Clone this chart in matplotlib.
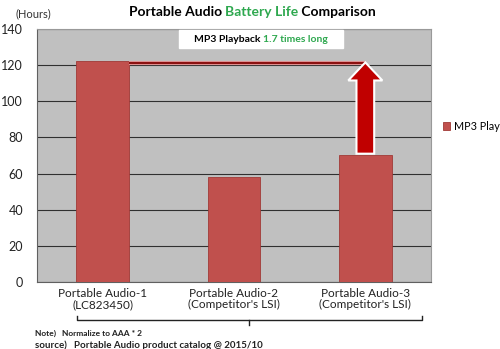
import matplotlib.pyplot as plt
from matplotlib.offsetbox import TextArea, HPacker, AnnotationBbox, DrawingArea
from matplotlib.lines import Line2D
from matplotlib.patches import FancyArrow

plt.rcParams['font.family'] = ['Lato', 'DejaVu Sans']

categories = ['Portable Audio-1\n(LC823450)',
              'Portable Audio-2\n(Competitor\'s LSI)',
              'Portable Audio-3\n(Competitor\'s LSI)']
mp3_hours = [122, 58, 70]
yticks = [0, 20, 40, 60, 80, 100, 120, 140]

bar_color = '#C0504D'

fig = plt.figure(figsize=(5, 3.49), dpi=100)
ax = fig.add_axes([0.074, 0.192, 0.788, 0.725])
ax.set_facecolor('#C0C0C0')

x = range(len(categories))
ax.bar(x, mp3_hours, width=0.4, color=bar_color, edgecolor='#A03A37',
       linewidth=0.6, zorder=3, label='MP3 Play')

ax.set_xlim(-0.5, 2.5)
ax.set_ylim(0, 140)
ax.set_yticks(yticks)
ax.yaxis.grid(True, color='#303030', linewidth=0.8, zorder=1)
ax.set_axisbelow(True)
ax.tick_params(axis='y', length=0, labelsize=9, colors='#222222', pad=10)
ax.tick_params(axis='x', length=0, labelsize=8.5, colors='#222222', pad=4)
ax.set_xticks(list(x))
ax.set_xticklabels(categories, linespacing=1.05)
for s in ['top', 'right']:
    ax.spines[s].set_color('#999999')
for s in ['left', 'bottom']:
    ax.spines[s].set_color('#606060')

# reference line from bar 1 height over to bar 3
ax.plot([0.2, 2], [121, 121], color='#E8A0A0', linewidth=3, zorder=4, solid_capstyle='butt')
ax.plot([0.2, 2], [121, 121], color='#8B1010', linewidth=1.6, zorder=4, solid_capstyle='butt')

# big up arrow
ax.add_patch(FancyArrow(2, 71, 0, 50.5, width=0.135, head_width=0.26,
                        head_length=10, length_includes_head=True,
                        facecolor='#C00000', edgecolor='white', linewidth=1.5, zorder=5))

# annotation box
box = HPacker(children=[
    DrawingArea(8, 1),
    TextArea('MP3 Playback ', textprops=dict(color='black', fontsize=7.5, fontweight='bold')),
    TextArea('1.7 times long', textprops=dict(color='#2EA84F', fontsize=7.5, fontweight='bold')),
    DrawingArea(8, 1),
], align='baseline', pad=0, sep=0)
ab = AnnotationBbox(box, (0.569, 0.96), xycoords='axes fraction', frameon=True,
                    bboxprops=dict(facecolor='white', edgecolor='white',
                                   boxstyle='square,pad=0.3'),
                    zorder=6)
ax.add_artist(ab)

# title
title = HPacker(children=[
    TextArea('Portable Audio ', textprops=dict(color='black', fontsize=10, fontweight='bold')),
    TextArea('Battery Life', textprops=dict(color='#2EA84F', fontsize=10, fontweight='bold')),
    TextArea(' Comparison', textprops=dict(color='black', fontsize=10, fontweight='bold')),
], align='baseline', pad=0, sep=0)
tb = AnnotationBbox(title, (0.505, 0.965), xycoords='figure fraction', frameon=False, pad=0)
fig.add_artist(tb)

fig.text(0.03, 0.96, '(Hours)', fontsize=8, color='#333333', va='center')

# legend
ax.legend(loc='center left', bbox_to_anchor=(1.03, 0.615), frameon=False,
          fontsize=7.8, handlelength=0.7, handleheight=0.7, handletextpad=0.3,
          borderaxespad=0, borderpad=0)

# bracket under x labels
yb = 1 - 320 / 349
fig.add_artist(Line2D([77 / 500, 77 / 500, 422 / 500, 422 / 500],
                      [yb + 0.012, yb, yb, yb + 0.012], color='#222222', linewidth=1))
fig.add_artist(Line2D([249 / 500, 249 / 500], [yb, yb - 0.014], color='#222222', linewidth=1))

fig.text(0.07, 1 - 333 / 349, 'Note)   Normalize to AAA * 2', fontsize=6, fontweight='bold',
         color='#222222', va='center')
fig.text(0.07, 1 - 345 / 349, 'source)   Portable Audio product catalog @ 2015/10', fontsize=7,
         fontweight='bold', color='#222222', va='center')

plt.savefig('out.png', dpi=100)
